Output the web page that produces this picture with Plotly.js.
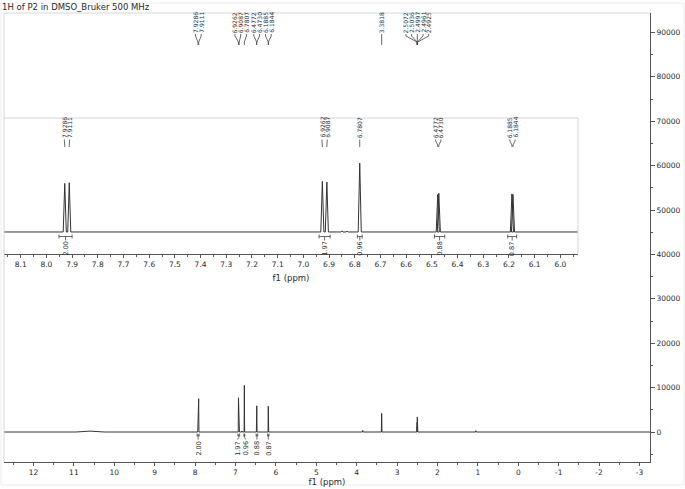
<!DOCTYPE html>
<html><head><meta charset="utf-8">
<script src="https://cdn.plot.ly/plotly-3.0.1.min.js"></script>
<style>html,body{margin:0;padding:0;background:#fff}#chart{width:685px;height:489px}</style>
</head><body><div id="chart"></div>
<script>
// ---------------- data ----------------
const chartTitle = '1H of P2 in DMSO_Bruker 500 MHz';
const axisTitle = 'f1 (ppm)';
// peak list: chemical shift (ppm), intensity, half width at base (ppm)
const peakPpm       = [10.6, 7.9286, 7.9111, 6.9262, 6.9087, 6.85, 6.83, 6.7807, 6.4772, 6.4730, 6.1885, 6.1844, 3.85, 3.3818, 2.5072, 2.5036, 2.4997, 2.4961, 2.4925, 1.05, -2.9];
const peakHeight    = [200, 7400, 7500, 7700, 7600, 150, 120, 10500, 5700, 5900, 5800, 5700, 350, 4200, 800, 2200, 3400, 2200, 800, 300, -150];
const peakHalfWidth = [0.35, 0.006, 0.006, 0.006, 0.006, 0.004, 0.004, 0.006, 0.006, 0.006, 0.006, 0.006, 0.01, 0.008, 0.005, 0.005, 0.005, 0.005, 0.005, 0.01, 0.01];
// labelled peaks
const labelPpm = [7.9286, 7.9111, 6.9262, 6.9087, 6.7807, 6.4772, 6.4730, 6.1885, 6.1844, 3.3818, 2.5072, 2.5036, 2.4997, 2.4961, 2.4925];
// integrals
const intFrom  = [7.951, 6.939, 6.790, 6.490, 6.205];
const intTo    = [7.900, 6.896, 6.771, 6.450, 6.170];
const intValue = [2.00, 1.97, 0.96, 0.88, 0.87];
// main axis tick labels
const mainTickVals   = [12, 11, 10, 9, 8, 7, 6, 5, 4, 3, 2, 1, 0, -1, -2, -3];
const mainTickLabels = ['12', '11', '10', '9', '8', '7', '6', '5', '4', '3', '2', '1', '0', '-1', '-2', '-3'];

// ---------------- layout geometry ----------------
const W = 685, H = 489, M = {l: 4, r: 35, t: 13, b: 27};
const plotW = W - M.l - M.r, plotH = H - M.t - M.b;
const xRange = [12.730, -3.26], yRange = [-6757, 94369];
const x2Dom = [0, 0.8885], y2Dom = [0.4633, 0.7661];
const x2Range = [8.165, 5.9315], y2Range = [-3349, 17352];
function py(pix) { return (H - M.b - pix) / plotH; }
const pxPerPpmMain = plotW / (xRange[0] - xRange[1]);
const pxPerPpmInset = plotW * (x2Dom[1] - x2Dom[0]) / (x2Range[0] - x2Range[1]);

const FONT = 'DejaVu Sans, Verdana, sans-serif';
const TXT = '#2a2a2a', AX = '#555', LIGHT = '#d6d6d6', LINE = '#333';

// spread labels so they do not overlap (values descending, pitch in ppm)
function spread(vals, pitch) {
  let clusters = vals.map(v => ({m: [v]}));
  const pos = c => {
    const n = c.m.length, mean = c.m.reduce((a, b) => a + b, 0) / n;
    return c.m.map((_, i) => mean + ((n - 1) / 2 - i) * pitch);
  };
  let changed = true;
  while (changed) {
    changed = false;
    for (let i = 0; i < clusters.length - 1; i++) {
      const a = pos(clusters[i]), b = pos(clusters[i + 1]);
      if (a[a.length - 1] - b[0] < pitch - 1e-9) {
        clusters[i].m = clusters[i].m.concat(clusters[i + 1].m);
        clusters.splice(i + 1, 1);
        changed = true; break;
      }
    }
  }
  return clusters.flatMap(pos);
}

// ---------------- spectrum line from the peak list ----------------
const sx = [xRange[0]], sy = [0];
peakPpm.forEach((p, i) => {
  const w = peakHalfWidth[i];
  sx.push(p + w, p, p - w); sy.push(0, peakHeight[i], 0);
});
sx.push(xRange[1]); sy.push(0);

const traces = [
  {x: sx, y: sy, type: 'scatter', mode: 'lines', xaxis: 'x', yaxis: 'y',
   line: {color: LINE, width: 1}, hoverinfo: 'skip', showlegend: false},
  {x: sx, y: sy, type: 'scatter', mode: 'lines', xaxis: 'x2', yaxis: 'y2',
   line: {color: LINE, width: 1}, hoverinfo: 'skip', showlegend: false}
];

const annotations = [], shapes = [];
const lblFont = {family: FONT, size: 6, color: TXT};
const conn = {color: '#444', width: 0.8};

// main peak labels
const mainLab = spread(labelPpm, 5.7 / pxPerPpmMain);
labelPpm.forEach((p, i) => {
  const lx = mainLab[i];
  annotations.push({xref: 'x', yref: 'paper', x: lx, y: py(34), xanchor: 'center', yanchor: 'bottom',
    text: p.toFixed(4), textangle: -90, showarrow: false, font: lblFont, borderpad: 0});
  shapes.push({type: 'path', xref: 'x', yref: 'paper', line: conn,
    path: `M ${lx},${py(34)} L ${lx},${py(36)} L ${p},${py(42)} L ${p},${py(45)}`});
});
// inset peak labels
const insetIdx = labelPpm.map((p, i) => i).filter(i => labelPpm[i] < x2Range[0] && labelPpm[i] > x2Range[1]);
const insetVals = insetIdx.map(i => labelPpm[i]);
const insetLab = spread(insetVals, 5.2 / pxPerPpmInset);
insetVals.forEach((p, i) => {
  const lx = insetLab[i];
  annotations.push({xref: 'x2', yref: 'paper', x: lx, y: py(139), xanchor: 'center', yanchor: 'bottom',
    text: p.toFixed(4), textangle: -90, showarrow: false, font: lblFont, borderpad: 0});
  shapes.push({type: 'path', xref: 'x2', yref: 'paper', line: conn,
    path: `M ${lx},${py(139.5)} L ${lx},${py(141)} L ${p},${py(145)} L ${p},${py(147)}`});
});

// integrals
const intFont = {family: FONT, size: 6.5, color: TXT};
const intCenters = intFrom.map((f, i) => (f + intTo[i]) / 2);
const mainIntLab = spread(intCenters, 8.5 / pxPerPpmMain);
intValue.forEach((v, i) => {
  const c = intCenters[i];
  // inset bracket
  shapes.push({type: 'path', xref: 'x2', yref: 'paper', line: conn,
    path: `M ${intFrom[i]},${py(234.5)} L ${intFrom[i]},${py(238.5)} M ${intFrom[i]},${py(236.5)} L ${intTo[i]},${py(236.5)} M ${intTo[i]},${py(234.5)} L ${intTo[i]},${py(238.5)} M ${c},${py(236.5)} L ${c},${py(240.5)}`});
  annotations.push({xref: 'x2', yref: 'paper', x: c, y: py(241), xanchor: 'center', yanchor: 'top',
    text: v.toFixed(2), textangle: -90, showarrow: false, font: intFont, borderpad: 0});
  // main bracket
  const lx = mainIntLab[i];
  shapes.push({type: 'path', xref: 'x', yref: 'paper', line: conn,
    path: `M ${intFrom[i]},${py(433.5)} L ${intFrom[i]},${py(436.5)} M ${intFrom[i]},${py(435)} L ${intTo[i]},${py(435)} M ${intTo[i]},${py(433.5)} L ${intTo[i]},${py(436.5)} M ${c},${py(435)} L ${c},${py(437.5)} L ${lx},${py(439.5)}`});
  annotations.push({xref: 'x', yref: 'paper', x: lx, y: py(440.5), xanchor: 'center', yanchor: 'top',
    text: v.toFixed(2), textangle: -90, showarrow: false, font: intFont, borderpad: 0});
});

// frame lines
shapes.push({type: 'line', xref: 'paper', yref: 'paper', x0: 0, x1: 1, y0: 1, y1: 1, line: {color: LIGHT, width: 1}});
shapes.push({type: 'line', xref: 'paper', yref: 'paper', x0: 0, x1: 0, y0: 0, y1: 1, line: {color: LIGHT, width: 1}});
shapes.push({type: 'line', xref: 'paper', yref: 'paper', x0: x2Dom[0], x1: x2Dom[1], y0: y2Dom[1], y1: y2Dom[1], line: {color: LIGHT, width: 1}});
shapes.push({type: 'line', xref: 'paper', yref: 'paper', x0: x2Dom[1], x1: x2Dom[1], y0: y2Dom[0], y1: y2Dom[1], line: {color: LIGHT, width: 1}});
shapes.push({type: 'rect', xref: 'paper', yref: 'paper', x0: (1 - M.l) / plotW, x1: (684 - M.l) / plotW, y0: py(485), y1: py(3), line: {color: '#ececec', width: 1}, layer: 'below'});

const tickFont = {family: FONT, size: 7.5, color: TXT};
const layout = {
  width: W, height: H, margin: M, paper_bgcolor: '#fff', plot_bgcolor: 'rgba(0,0,0,0)',
  showlegend: false,
  title: {text: chartTitle, x: 0.003, xanchor: 'left', xref: 'container', y: 1 - 7.5 / H, yanchor: 'middle', yref: 'container',
          font: {family: FONT, size: 8.5, color: TXT}},
  xaxis: {range: xRange, domain: [0, 1], anchor: 'y', tickmode: 'array', tickvals: mainTickVals, ticktext: mainTickLabels,
          ticks: 'outside', ticklen: 3, tickcolor: AX,
          minor: {tickmode: 'linear', tick0: 0, dtick: 0.5, ticks: 'outside', ticklen: 2, tickcolor: AX},
          showline: true, linecolor: AX, linewidth: 1, showgrid: false, zeroline: false, tickfont: tickFont,
          title: {text: axisTitle, font: {family: FONT, size: 8.5, color: TXT}, standoff: 2}, automargin: false, fixedrange: true},
  yaxis: {range: yRange, domain: [0, 1], anchor: 'x', side: 'right', tick0: 0, dtick: 10000, tickformat: 'd',
          ticks: 'outside', ticklen: 4, tickcolor: AX, minor: {dtick: 5000, ticks: 'outside', ticklen: 2, tickcolor: AX},
          showline: true, linecolor: AX, linewidth: 1, showgrid: false, zeroline: false, tickfont: tickFont, automargin: false, fixedrange: true},
  xaxis2: {range: x2Range, domain: x2Dom, anchor: 'y2', tick0: 0, dtick: 0.1, tickformat: '.1f', ticks: 'outside', ticklen: 3, tickcolor: AX,
          minor: {dtick: 0.05, ticks: 'outside', ticklen: 2, tickcolor: AX},
          showline: true, linecolor: AX, linewidth: 1, showgrid: false, zeroline: false, tickfont: tickFont,
          title: {text: axisTitle, font: {family: FONT, size: 8.5, color: TXT}, standoff: 7}, automargin: false, fixedrange: true},
  yaxis2: {range: y2Range, domain: y2Dom, anchor: 'x2', visible: false, fixedrange: true},
  annotations: annotations, shapes: shapes
};
Plotly.newPlot('chart', traces, layout, {staticPlot: true, displayModeBar: false});
</script></body></html>
